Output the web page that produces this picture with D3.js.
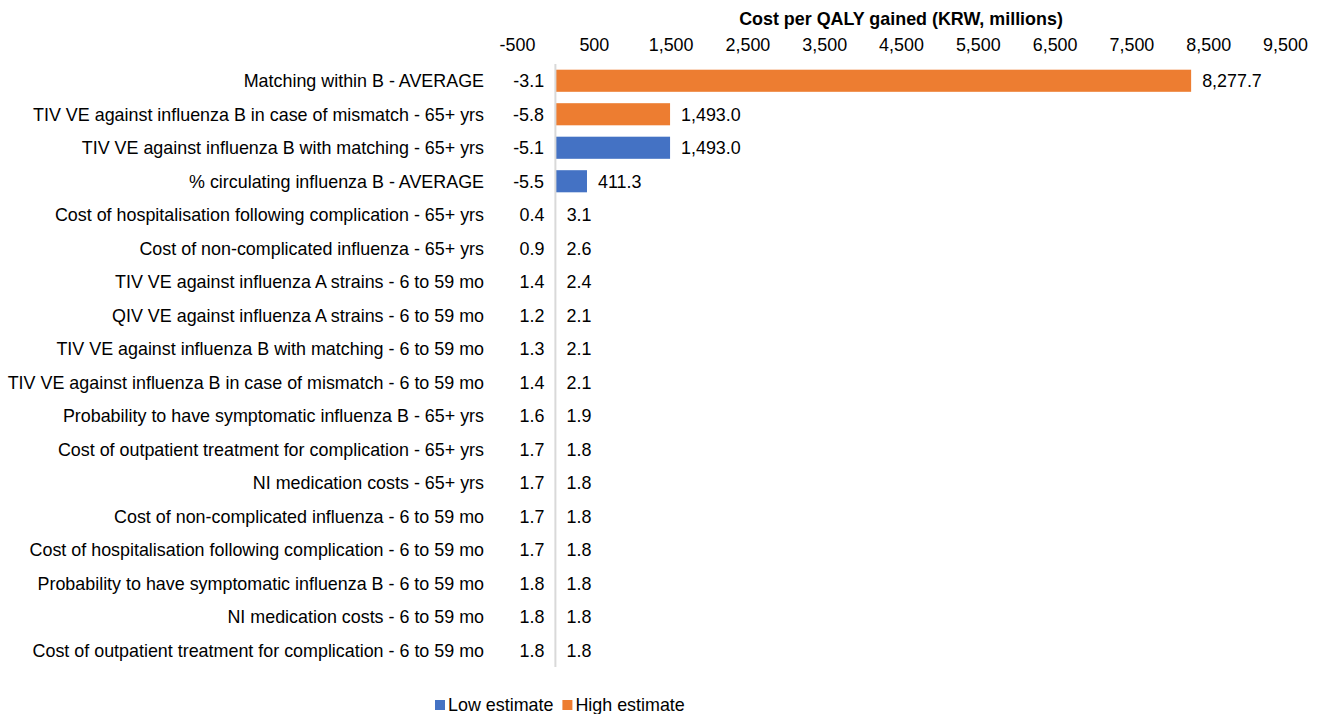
<!DOCTYPE html>
<html>
<head>
<meta charset="utf-8">
<script src="https://cdn.jsdelivr.net/npm/d3@7"></script>
<style>
  html, body { margin: 0; padding: 0; background: #fff; }
  svg { display: block; font-family: "Liberation Sans", Arial, sans-serif; }
</style>
</head>
<body>
<svg id="chart" width="1322" height="714"></svg>
<script>
// Sensitivity parameters (top to bottom)
const categories = [
  "Matching within B - AVERAGE",
  "TIV VE against influenza B in case of mismatch - 65+ yrs",
  "TIV VE against influenza B with matching - 65+ yrs",
  "% circulating influenza B - AVERAGE",
  "Cost of hospitalisation following complication - 65+ yrs",
  "Cost of non-complicated influenza - 65+ yrs",
  "TIV VE against influenza A strains - 6 to 59 mo",
  "QIV VE against influenza A strains - 6 to 59 mo",
  "TIV VE against influenza B with matching - 6 to 59 mo",
  "TIV VE against influenza B in case of mismatch - 6 to 59 mo",
  "Probability to have symptomatic influenza B - 65+ yrs",
  "Cost of outpatient treatment for complication - 65+ yrs",
  "NI medication costs - 65+ yrs",
  "Cost of non-complicated influenza - 6 to 59 mo",
  "Cost of hospitalisation following complication - 6 to 59 mo",
  "Probability to have symptomatic influenza B - 6 to 59 mo",
  "NI medication costs - 6 to 59 mo",
  "Cost of outpatient treatment for complication - 6 to 59 mo"
];

// Cost per QALY gained (KRW, millions) at the low and high input values
const lowEstimate  = [-3.1, -5.8, 1493.0, 411.3, 0.4, 0.9, 1.4, 1.2, 1.3, 1.4, 1.6, 1.7, 1.7, 1.7, 1.7, 1.8, 1.8, 1.8];
const highEstimate = [8277.7, 1493.0, -5.1, -5.5, 3.1, 2.6, 2.4, 2.1, 2.1, 2.1, 1.9, 1.8, 1.8, 1.8, 1.8, 1.8, 1.8, 1.8];

const tickValues = [-500, 500, 1500, 2500, 3500, 4500, 5500, 6500, 7500, 8500, 9500];
const axisTitle = "Cost per QALY gained (KRW, millions)";
const seriesNames = ["Low estimate", "High estimate"];
const seriesColors = ["#4472C4", "#ED7D31"];

const FS = 17.9;
const svg = d3.select("#chart");
const margin = { left: 517, right: 37, top: 64, bottom: 47 };
const W = 1322, H = 714;

const x = d3.scaleLinear().domain([-500, 9500]).range([margin.left, W - margin.right]);
const y = d3.scaleBand().domain(categories).range([margin.top, H - margin.bottom]).paddingInner(0.34).paddingOuter(0.17);

// Excel-style number formats with a plain hyphen for negatives
const hyphen = s => s.replace("\u2212", "-");
const fmt = v => hyphen(d3.format(",.1f")(v));
const tickFmt = v => hyphen(d3.format(",")(v));

// Axis title
svg.append("text")
  .attr("x", (x.range()[0] + x.range()[1]) / 2)
  .attr("y", 25)
  .attr("text-anchor", "middle")
  .attr("font-size", FS)
  .attr("font-weight", "bold")
  .attr("fill", "#000")
  .text(axisTitle);

// Top axis (labels only)
const axis = d3.axisTop(x)
  .tickValues(tickValues)
  .tickFormat(tickFmt)
  .tickSize(0)
  .tickPadding(0);
const gAxis = svg.append("g").attr("transform", "translate(0,51)").call(axis);
gAxis.select(".domain").remove();
gAxis.selectAll("text")
  .attr("font-size", FS)
  .attr("font-family", "Liberation Sans, Arial, sans-serif")
  .attr("fill", "#000");

// Bars: one row per parameter, both series drawn from zero
const rows = categories.map((c, i) => ({ cat: c, low: lowEstimate[i], high: highEstimate[i] }));
const barData = [];
rows.forEach(r => {
  barData.push({ cat: r.cat, v: r.low, s: 0, other: r.high });
  barData.push({ cat: r.cat, v: r.high, s: 1, other: r.low });
});

svg.append("g").selectAll("rect")
  .data(barData)
  .join("rect")
  .attr("x", d => Math.min(x(0), x(d.v)))
  .attr("y", d => y(d.cat))
  .attr("width", d => Math.abs(x(d.v) - x(0)))
  .attr("height", y.bandwidth())
  .attr("fill", d => seriesColors[d.s]);

// Baseline
svg.append("line")
  .attr("x1", x(0)).attr("x2", x(0))
  .attr("y1", margin.top).attr("y2", H - margin.bottom)
  .attr("stroke", "#d9d9d9")
  .attr("stroke-width", 2);

// Value labels: the smaller value to the left of the baseline, the larger to the right
const isLeft = d => d.v < d.other || (d.v === d.other && d.s === 0);
svg.append("g").selectAll("text")
  .data(barData)
  .join("text")
  .attr("x", d => isLeft(d) ? Math.min(x(d.v), x(0)) - 11 : Math.max(x(d.v), x(0)) + 11)
  .attr("text-anchor", d => isLeft(d) ? "end" : "start")
  .attr("y", d => y(d.cat) + y.bandwidth() / 2)
  .attr("dy", "0.35em")
  .attr("font-size", FS)
  .attr("fill", "#000")
  .text(d => fmt(d.v));

// Category labels
svg.append("g").selectAll("text")
  .data(categories)
  .join("text")
  .attr("x", 484)
  .attr("y", d => y(d) + y.bandwidth() / 2)
  .attr("dy", "0.35em")
  .attr("text-anchor", "end")
  .attr("font-size", FS)
  .attr("fill", "#000")
  .text(d => d);

// Legend
const legend = svg.append("g").attr("transform", "translate(435,705)");
let lx = 0;
seriesNames.forEach((name, i) => {
  legend.append("rect").attr("x", lx).attr("y", -5).attr("width", 10).attr("height", 10).attr("fill", seriesColors[i]);
  const t = legend.append("text")
    .attr("x", lx + 13).attr("y", 0).attr("dy", "0.35em")
    .attr("font-size", FS).attr("fill", "#000").text(name);
  lx += 13 + t.node().getComputedTextLength() + 9;
});
</script>
</body>
</html>
